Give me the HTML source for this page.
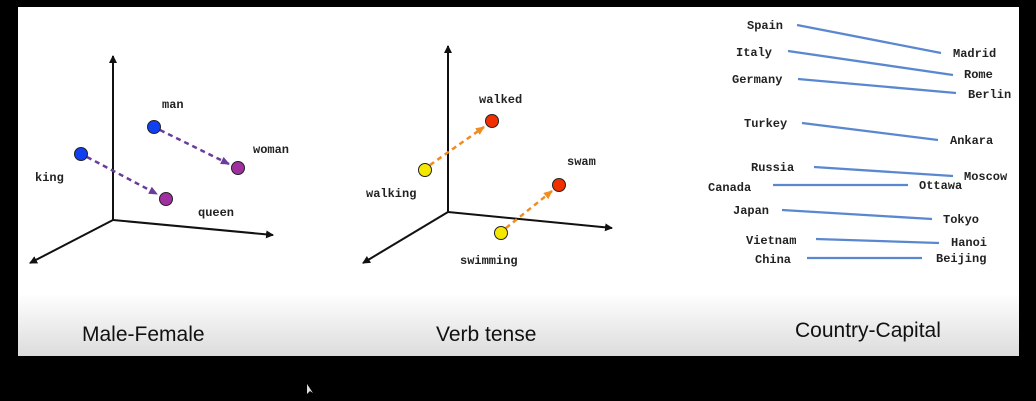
<!DOCTYPE html>
<html><head><style>
html,body{margin:0;padding:0;background:#000;width:1036px;height:401px;overflow:hidden}
svg{display:block}
.m{font-family:"Liberation Mono",monospace;font-size:12px;font-weight:bold;fill:#222}
.t{font-family:"Liberation Sans",sans-serif;font-size:21px;fill:#111}
</style></head><body>
<svg width="1036" height="401" viewBox="0 0 1036 401">
<defs>
<linearGradient id="g" x1="0" y1="0" x2="0" y2="1">
<stop offset="0" stop-color="#fff"/><stop offset="0.82" stop-color="#fff"/><stop offset="1" stop-color="#dcdcdc"/>
</linearGradient>
<marker id="a" markerWidth="8" markerHeight="8" refX="7" refY="4" orient="auto" markerUnits="userSpaceOnUse"><path d="M0,0 L8,4 L0,8 z" fill="#111"/></marker>
<marker id="p" markerWidth="9" markerHeight="8" refX="8" refY="4" orient="auto" markerUnits="userSpaceOnUse"><path d="M0,0 L9,4 L0,8 z" fill="#6a3d9a"/></marker>
<marker id="o" markerWidth="9" markerHeight="8" refX="8" refY="4" orient="auto" markerUnits="userSpaceOnUse"><path d="M0,0 L9,4 L0,8 z" fill="#f08c20"/></marker>
</defs>
<rect x="18" y="7" width="1001" height="349" fill="url(#g)"/>
<g stroke="#111" stroke-width="2" fill="none">
<line x1="113" y1="220" x2="113" y2="56" marker-end="url(#a)"/>
<line x1="113" y1="220" x2="273" y2="235" marker-end="url(#a)"/>
<line x1="113" y1="220" x2="30" y2="263" marker-end="url(#a)"/>
</g>
<g stroke="#6a3d9a" stroke-width="2.5" stroke-dasharray="5,4" fill="none">
<line x1="160" y1="130" x2="229" y2="164" marker-end="url(#p)"/>
<line x1="87" y1="157" x2="157" y2="194" marker-end="url(#p)"/>
</g>
<circle cx="154" cy="127" r="6.5" fill="#1040f0" stroke="#222" stroke-width="1"/>
<circle cx="81" cy="154" r="6.5" fill="#1040f0" stroke="#222" stroke-width="1"/>
<circle cx="238" cy="168" r="6.5" fill="#a030a0" stroke="#222" stroke-width="1"/>
<circle cx="166" cy="199" r="6.5" fill="#a030a0" stroke="#222" stroke-width="1"/>
<text class="m" x="162" y="108">man</text>
<text class="m" x="253" y="153">woman</text>
<text class="m" x="35" y="181">king</text>
<text class="m" x="198" y="216">queen</text>
<text class="t" x="82" y="341">Male-Female</text>
<g stroke="#111" stroke-width="2" fill="none">
<line x1="448" y1="212" x2="448" y2="46" marker-end="url(#a)"/>
<line x1="448" y1="212" x2="612" y2="228" marker-end="url(#a)"/>
<line x1="448" y1="212" x2="363" y2="263" marker-end="url(#a)"/>
</g>
<g stroke="#f08c20" stroke-width="2.5" stroke-dasharray="5,4" fill="none">
<line x1="430" y1="165" x2="484" y2="127" marker-end="url(#o)"/>
<line x1="506" y1="228" x2="552" y2="191" marker-end="url(#o)"/>
</g>
<circle cx="425" cy="170" r="6.5" fill="#f5e800" stroke="#222" stroke-width="1"/>
<circle cx="492" cy="121" r="6.5" fill="#f03000" stroke="#222" stroke-width="1"/>
<circle cx="559" cy="185" r="6.5" fill="#f03000" stroke="#222" stroke-width="1"/>
<circle cx="501" cy="233" r="6.5" fill="#f5e800" stroke="#222" stroke-width="1"/>
<text class="m" x="479" y="103">walked</text>
<text class="m" x="366" y="197">walking</text>
<text class="m" x="567" y="165">swam</text>
<text class="m" x="460" y="264">swimming</text>
<text class="t" x="436" y="341">Verb tense</text>
<g stroke="#5a88d0" stroke-width="2.3">
<line x1="797" y1="25" x2="941" y2="53"/>
<line x1="788" y1="51" x2="953" y2="75"/>
<line x1="798" y1="79" x2="956" y2="93"/>
<line x1="802" y1="123" x2="938" y2="140"/>
<line x1="814" y1="167" x2="953" y2="176"/>
<line x1="773" y1="185" x2="908" y2="185"/>
<line x1="782" y1="210" x2="932" y2="219"/>
<line x1="816" y1="239" x2="939" y2="243"/>
<line x1="807" y1="258" x2="922" y2="258"/>
</g>
<text class="m" x="747" y="29">Spain</text><text class="m" x="953" y="57">Madrid</text>
<text class="m" x="736" y="56">Italy</text><text class="m" x="964" y="78">Rome</text>
<text class="m" x="732" y="83">Germany</text><text class="m" x="968" y="98">Berlin</text>
<text class="m" x="744" y="127">Turkey</text><text class="m" x="950" y="144">Ankara</text>
<text class="m" x="751" y="171">Russia</text><text class="m" x="964" y="180">Moscow</text>
<text class="m" x="708" y="191">Canada</text><text class="m" x="919" y="189">Ottawa</text>
<text class="m" x="733" y="214">Japan</text><text class="m" x="943" y="223">Tokyo</text>
<text class="m" x="746" y="244">Vietnam</text><text class="m" x="951" y="246">Hanoi</text>
<text class="m" x="755" y="263">China</text><text class="m" x="936" y="262">Beijing</text>
<text class="t" x="795" y="337">Country-Capital</text>
<path d="M307,384 L307,394 L310,391 L313,393 Z" fill="#ddd"/>
</svg>
</body></html>
